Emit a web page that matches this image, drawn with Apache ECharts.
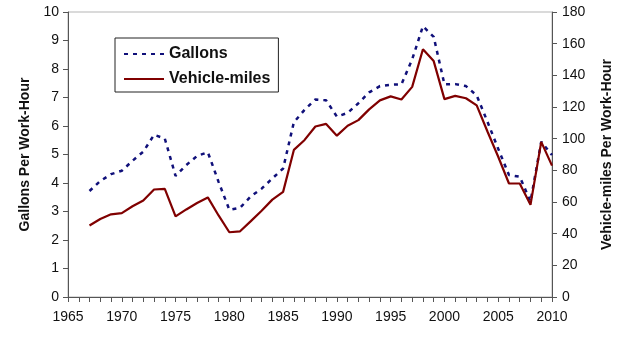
<!DOCTYPE html>
<html>
<head>
<meta charset="utf-8">
<script src="https://cdn.jsdelivr.net/npm/echarts@6/dist/echarts.min.js"></script>
<style>
html,body{margin:0;padding:0;background:#fff;}
#c{width:628px;height:343px;}
</style>
</head>
<body>
<div id="c"></div>
<script>
const years = [1967,1968,1969,1970,1971,1972,1973,1974,1975,1976,1977,1978,1979,1980,1981,1982,1983,1984,1985,1986,1987,1988,1989,1990,1991,1992,1993,1994,1995,1996,1997,1998,1999,2000,2001,2002,2003,2004,2005,2006,2007,2008,2009,2010];
const gallons = [3.72,4.07,4.31,4.43,4.78,5.1,5.69,5.56,4.25,4.63,4.95,5.08,4.04,3.06,3.13,3.53,3.8,4.16,4.51,6.13,6.57,6.93,6.9,6.33,6.46,6.8,7.18,7.4,7.45,7.46,8.34,9.5,9.13,7.46,7.47,7.4,7.07,6.15,5.2,4.28,4.22,3.35,5.45,4.98];
const vehicleMiles = [45.2,49.3,52.2,53,57.3,61,67.9,68.3,50.9,55.3,59.4,62.9,51.5,40.9,41.5,47.9,54.5,61.5,66.4,92.9,99.2,107.7,109.3,101.9,108.2,111.7,118.5,124.2,126.7,124.7,132.7,156.5,149,125,127,125.5,121,104.5,88.6,71.7,71.7,58.2,98,83];
const seriesNames = ['Gallons','Vehicle-miles'];
const leftAxisName = 'Gallons Per Work-Hour';
const rightAxisName = 'Vehicle-miles Per Work-Hour';

const axisColor = '#555';
const labelFont = {fontFamily:'Liberation Sans, Arial, sans-serif', fontSize:14, color:'#111'};
const nameFont = {fontFamily:'Liberation Sans, Arial, sans-serif', fontSize:14, fontWeight:'bold', color:'#111'};

const chart = echarts.init(document.getElementById('c'), null, {renderer:'canvas'});
chart.setOption({
  animation:false,
  backgroundColor:'#fff',
  grid:{left:68,right:76,top:12,bottom:46,show:true,borderColor:'#b5b5b5',borderWidth:1,backgroundColor:'transparent'},
  legend:{
    left:115, top:38, orient:'vertical',
    padding:[8,8,5,8], itemGap:9, itemWidth:40, itemHeight:14,
    borderColor:'#222', borderWidth:1, backgroundColor:'#fff',
    itemStyle:{opacity:0},
    textStyle:{fontFamily:'Liberation Sans, Arial, sans-serif', fontSize:16, fontWeight:'bold', color:'#111', padding:[0,0,0,0]},
    data:seriesNames
  },
  xAxis:{
    type:'value', min:1965, max:2010, interval:5,
    axisLine:{show:true,lineStyle:{color:axisColor,width:1}},
    axisTick:{show:true,length:5,lineStyle:{color:axisColor}},
    minorTick:{show:true,splitNumber:5,length:5,lineStyle:{color:axisColor}},
    splitLine:{show:false},
    axisLabel:Object.assign({margin:13,formatter:v=>String(v)},labelFont)
  },
  yAxis:[
    {
      type:'value', min:0, max:10, interval:1, position:'left',
      name:leftAxisName, nameLocation:'middle', nameGap:30, nameRotate:90, nameTextStyle:nameFont,
      axisLine:{show:true,lineStyle:{color:axisColor,width:1}},
      axisTick:{show:true,length:5,lineStyle:{color:axisColor}},
      splitLine:{show:false},
      axisLabel:Object.assign({margin:9},labelFont)
    },
    {
      type:'value', min:0, max:180, interval:20, position:'right',
      name:rightAxisName, nameLocation:'middle', nameGap:48, nameRotate:90, nameTextStyle:nameFont,
      axisLine:{show:true,lineStyle:{color:axisColor,width:1}},
      axisTick:{show:true,length:5,lineStyle:{color:axisColor}},
      splitLine:{show:false},
      axisLabel:Object.assign({margin:10},labelFont)
    }
  ],
  series:[
    {
      name:seriesNames[0], type:'line', yAxisIndex:0, symbol:'none',
      data:years.map((y,i)=>[y,gallons[i]]),
      lineStyle:{color:'#10107a',width:2.5,type:[4,5]},
      itemStyle:{color:'#10107a'}
    },
    {
      name:seriesNames[1], type:'line', yAxisIndex:1, symbol:'none',
      data:years.map((y,i)=>[y,vehicleMiles[i]]),
      lineStyle:{color:'#800000',width:2.2},
      itemStyle:{color:'#800000'}
    }
  ]
});
</script>
</body>
</html>
